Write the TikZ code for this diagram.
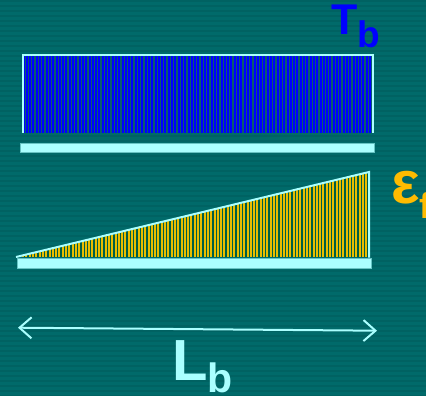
\documentclass[tikz,border=0pt]{standalone}
\usepackage{fontspec}
\setmainfont{Liberation Sans}
\usepackage{tikz}
\usetikzlibrary{arrows.meta}
\definecolor{SlideTeal}{HTML}{006A6A}
\definecolor{SlideTealDark}{HTML}{006262}
\definecolor{BarCyan}{HTML}{AAFFFF}
\definecolor{LoadBlue}{HTML}{0000FF}
\definecolor{HatchBlue}{HTML}{0A5C6E}
\definecolor{StrainGold}{HTML}{E8BC00}
\definecolor{HatchGreen}{HTML}{005E44}
\definecolor{LabelGold}{HTML}{FFBB00}
\tikzset{
  edgeline/.style={draw=BarCyan, line width=2pt, line join=miter},
  bondbar/.style={fill=BarCyan, draw=BarCyan!60!SlideTeal, line width=0.6pt},
  dimarrow/.style={{Straight Barb[length=12pt,width=21pt]}-{Straight Barb[length=12pt,width=21pt]},
    draw=BarCyan, line width=2pt},
  biglabel/.style={inner sep=0pt, anchor=base west}
}

\begin{document}
\begin{tikzpicture}[x=1pt,y=-1pt]
\useasboundingbox (0,0) rectangle (426,396);
\clip (0,0) rectangle (426,396);
% slide background
\fill[SlideTeal] (0,0) rectangle (426,396);
\foreach \y in {0,5,...,395}
  \fill[SlideTealDark] (0,\y) rectangle (426,\y+2);

% uniform stress block
\begin{scope}
  \clip (23,56) rectangle (372,133);
  \fill[LoadBlue] (23,56) rectangle (372,133);
  \foreach \x in {25.2,28.5,...,372}
    \draw[HatchBlue, line width=1.25pt] (\x,56) -- (\x,133);
\end{scope}
\draw[edgeline] (22.5,133) -- (22.5,55.5) -- (372.5,55.5) -- (372.5,133);
\fill[bondbar] (20.5,143.5) rectangle (374.5,152.5);

% linear strain wedge
\begin{scope}
  \clip (16,257) -- (369,172) -- (369,257) -- cycle;
  \fill[StrainGold] (16,170) rectangle (370,257);
  \foreach \x in {18.2,21.5,...,370}
    \draw[HatchGreen, line width=1.25pt] (\x,170) -- (\x,257);
\end{scope}
\draw[edgeline] (16,257) -- (369,172) -- (369,257.5);
\fill[bondbar] (17.5,258.5) rectangle (371.5,268.5);

% bond length
\coordinate (lbleft) at (18,327.7);
\coordinate (lbright) at (377,330.7);
\draw[dimarrow] (lbleft) -- (lbright);

% labels
\node[biglabel, text=LoadBlue, font=\bfseries\fontsize{43}{43}\selectfont] (tb) at (331,35)
  {T\raisebox{-13pt}{\fontsize{37}{37}\selectfont b}};
\node[biglabel, text=LabelGold, font=\bfseries\fontsize{60}{60}\selectfont] (ef) at (391,203)
  {ε\raisebox{-15pt}{\fontsize{36}{36}\selectfont f}};
\node[biglabel, text=BarCyan, font=\bfseries\fontsize{58}{58}\selectfont] (lb) at (172,380)
  {L\raisebox{-12pt}{\fontsize{41}{41}\selectfont b}};
\end{tikzpicture}
\end{document}
